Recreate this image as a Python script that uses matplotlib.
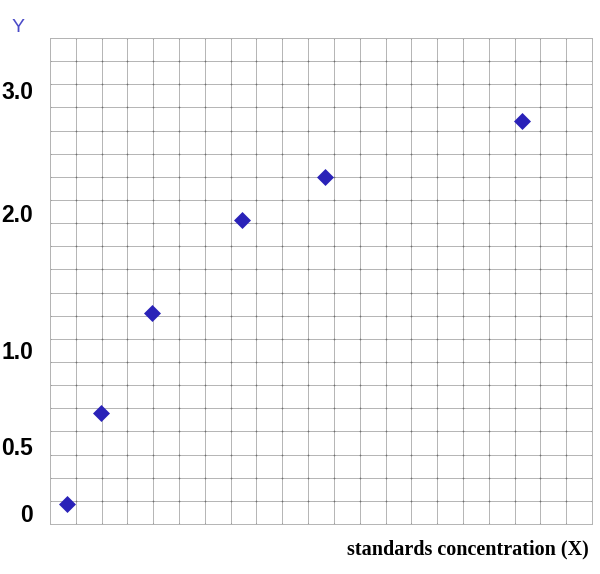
import matplotlib.pyplot as plt
import numpy as np

# values in grid units (21 x 21 squares)
x_vals = [0.66, 1.97, 3.97, 7.45, 10.67, 18.28]
y_vals = [0.86, 4.81, 9.13, 13.14, 15.01, 17.43]

# tick labels as placed on the hand-drawn y axis (grid units)
ytick_pos = [0.35, 3.28, 7.43, 13.35, 18.66]
ytick_labels = ['0', '0.5', '1.0', '2.0', '3.0']

n_cols = 21
n_rows = 21

fig = plt.figure(figsize=(6.0, 5.74), dpi=100)
ax = fig.add_axes([50 / 600, 1 - 524 / 574, 542 / 600, 486 / 574])

ax.set_xlim(0, n_cols)
ax.set_ylim(0, n_rows)
ax.set_xticks(np.arange(0, n_cols + 1))
ax.set_yticks(np.arange(0, n_rows + 1))
ax.grid(True, color='#b4b4b4', linewidth=0.7)
ax.tick_params(length=0, labelbottom=False, labelleft=False)
for s in ax.spines.values():
    s.set_color('#b4b4b4')
    s.set_linewidth(0.7)

# small darker dots at grid crossings
gx, gy = np.meshgrid(np.arange(0, n_cols + 1), np.arange(0, n_rows + 1))
ax.scatter(gx.ravel(), gy.ravel(), s=1.5, color='#707070', zorder=2, linewidths=0)

ax.scatter(x_vals, y_vals, marker='D', s=75, color='#2a22b8', zorder=3, linewidths=0)

for pos, lab in zip(ytick_pos, ytick_labels):
    ax.text(-17 / 25.8, pos, lab, ha='right', va='center', fontsize=16.5,
            fontweight='bold', family='Liberation Sans', color='black', clip_on=False)

fig.text(18 / 600, 1 - 28 / 574, 'Y', ha='center', va='center', fontsize=14,
         family='Liberation Sans', color='#4a4ac8')
fig.text(589 / 600, 1 - 549 / 574, 'standards concentration (X)', ha='right', va='center',
         fontsize=14.5, fontweight='bold', family='Liberation Serif', color='black')

plt.savefig('out.png', dpi=100)
plt.close()
